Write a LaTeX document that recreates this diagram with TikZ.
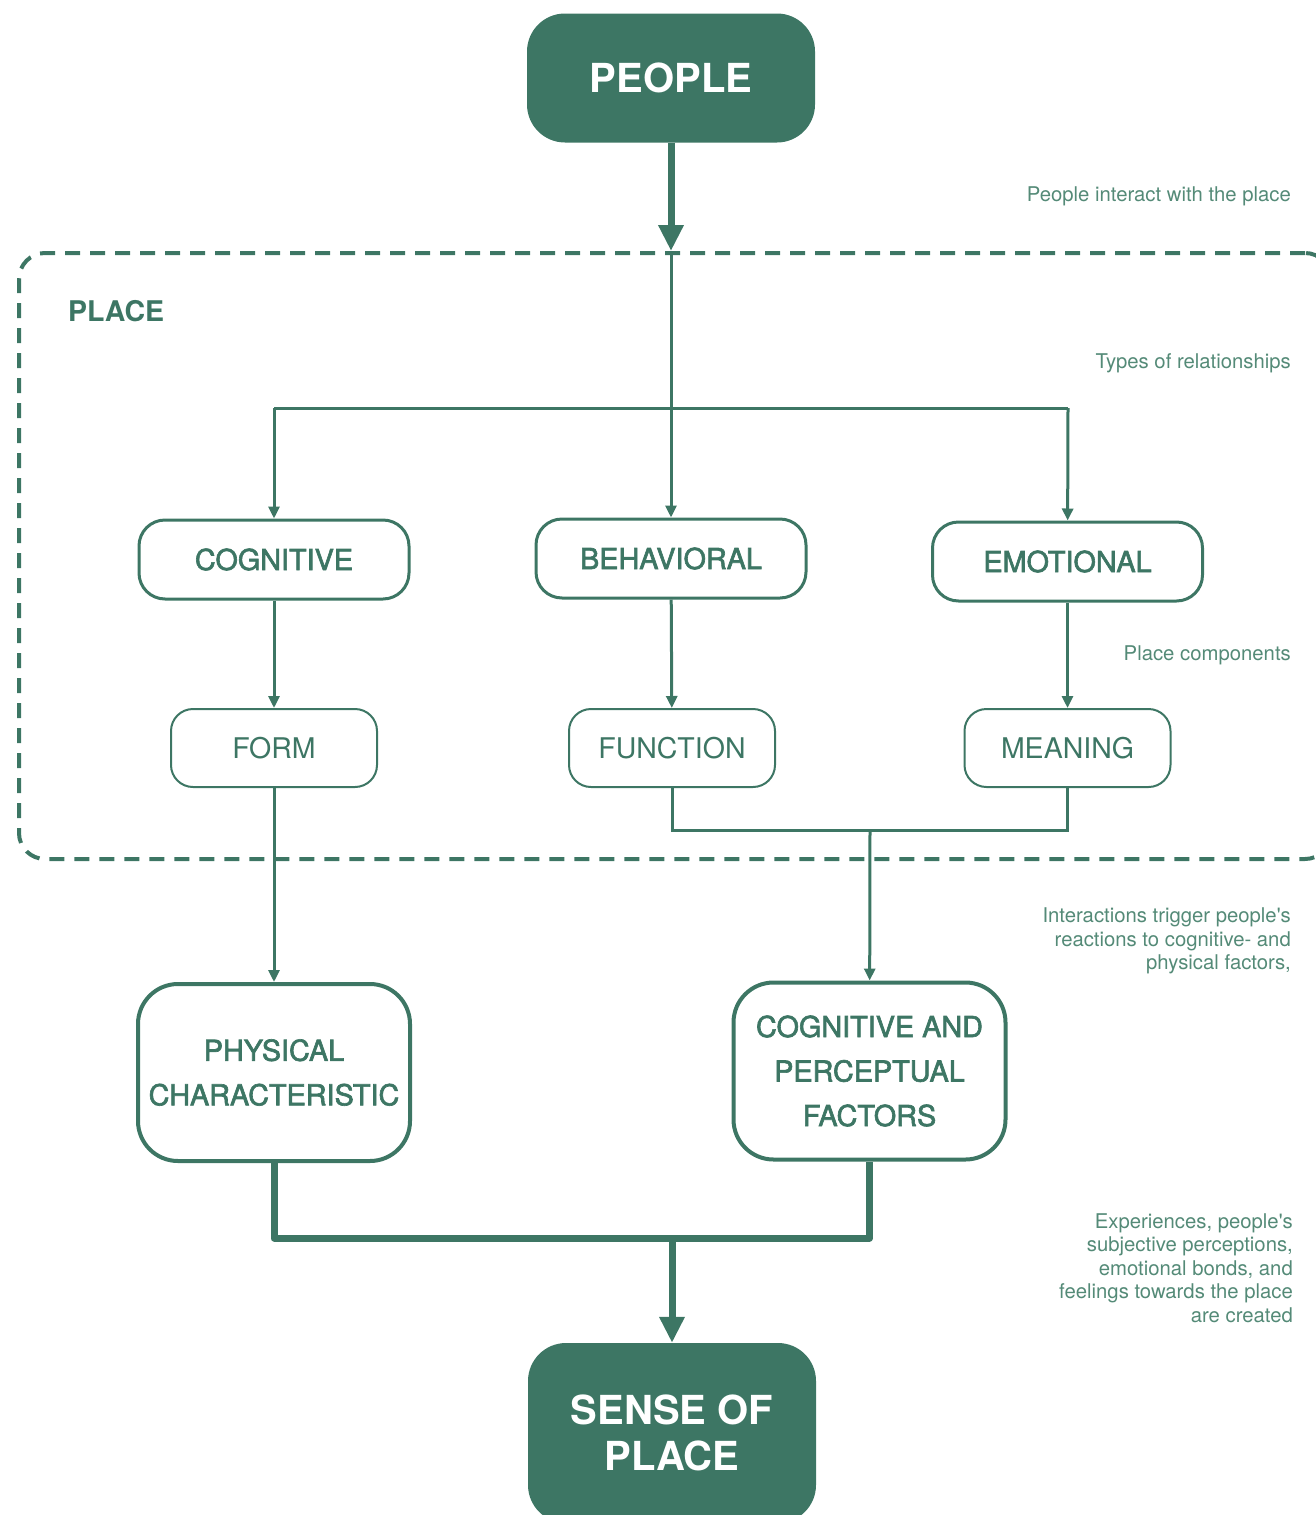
\documentclass[tikz,border=0pt]{standalone}
\usepackage{fontspec}
\setmainfont{TeX Gyre Heros}
\newfontfamily\medfont[FakeBold=2.2]{TeX Gyre Heros}
\font\notefnt="TeX Gyre Heros" at 20.3pt
\usetikzlibrary{arrows.meta}
\definecolor{placegreen}{RGB}{61,118,100}
\definecolor{notegreen}{RGB}{84,138,119}

\tikzset{
  endbox/.style={rectangle,rounded corners=38pt,fill=placegreen,text=white,
    font=\bfseries\fontsize{40}{46}\selectfont,minimum width=288pt,align=center,inner sep=0pt},
  typebox/.style={rectangle,rounded corners=26pt,draw=placegreen,line width=3pt,text=placegreen,
    font=\medfont\fontsize{28.8}{32}\selectfont,minimum width=270pt,minimum height=79pt,inner sep=0pt},
  compbox/.style={rectangle,rounded corners=22pt,draw=placegreen,line width=2pt,text=placegreen,
    font=\fontsize{28.5}{32}\selectfont,minimum width=206pt,minimum height=78pt,inner sep=0pt},
  factorbox/.style={rectangle,rounded corners=40pt,draw=placegreen,line width=4pt,text=placegreen,
    font=\medfont\fontsize{28.8}{44.5}\selectfont,minimum width=272pt,minimum height=177pt,align=center,inner sep=0pt},
  note/.style={anchor=east,text=notegreen,font=\fontsize{20.3}{23.5}\selectfont\notefnt,align=right,inner sep=0pt},
  thinline/.style={draw=placegreen,line width=3pt,-{Triangle[length=12pt,width=11pt]}},
  thickline/.style={draw=placegreen,line width=7pt,-{Triangle[length=26pt,width=24pt]}}
}

\begin{document}
\begin{tikzpicture}[x=1pt,y=-1pt]
\clip (0,0) rectangle (1316,1515);

% the place
\node (placearea) at (675,556) [rectangle,rounded corners=26pt,draw=placegreen,line width=4pt,
  dash pattern=on 15pt off 10pt,minimum width=1312pt,minimum height=606pt] {};
\node (placelabel) at (68,311) [anchor=west,inner sep=0pt,text=placegreen,
  font=\bfseries\fontsize{28.5}{32}\selectfont] {PLACE};

\begin{scope}[every node/.style={endbox}]
    \node (people) at (671,78) [minimum height=129pt] {PEOPLE};
    \node (sop) at (672,1433) [minimum height=180pt] {SENSE OF\\PLACE};
\end{scope}

\begin{scope}[every node/.style={typebox}]
    \node (cog) at (274,559.5) {COGNITIVE};
    \node (beh) at (671,558.5) {BEHAVIORAL};
    \node (emo) at (1067.5,561.5) {EMOTIONAL};
\end{scope}

\begin{scope}[every node/.style={compbox}]
    \node (form) at (274,748) {FORM};
    \node (func) at (672,748) {FUNCTION};
    \node (mean) at (1067.5,748) {MEANING};
\end{scope}

\begin{scope}[every node/.style={factorbox}]
    \node (phys) at (274,1072.5) {PHYSICAL\\CHARACTERISTIC};
    \node (cpf) at (869.5,1071) {COGNITIVE AND\\PERCEPTUAL\\FACTORS};
\end{scope}

\begin{scope}[every node/.style={note}]
    \node (note1) at (1291,196) {People interact with the place};
    \node (note2) at (1291,363) {Types of relationships};
    \node (note3) at (1291,655) {Place components};
    \node (note4) at (1291,941) {Interactions trigger people's\\reactions to cognitive- and\\physical factors,};
    \node (note5) at (1293,1268) {Experiences, people's\\subjective perceptions,\\emotional bonds, and\\feelings towards the place\\are created};
\end{scope}

\coordinate (entry) at (671,251);
\coordinate (splitl) at (274,408);
\coordinate (splitr) at (1068,408);
\coordinate (join) at (870,830);
\coordinate (merge) at (672,1238);

\begin{scope}[style={thinline}]
    \path (entry) edge (beh);
    \path [-] (splitl) edge (splitr);
    \path (splitl) edge (cog);
    \path (splitr) edge (emo);

    \path (cog) edge (form);
    \path (beh) edge (func);
    \path (emo) edge (mean);

    \draw [-] (func) -- (func |- join) -- (mean |- join) -- (mean);
    \path (join) edge (cpf);
    \path (form) edge (phys);
\end{scope}

\begin{scope}[style={thickline}]
    \path (people) edge (entry);
    \draw [-,line join=round] (phys) -- (phys |- merge) -- (cpf |- merge) -- (cpf);
    \path (merge) edge (sop);
\end{scope}

\end{tikzpicture}
\end{document}
